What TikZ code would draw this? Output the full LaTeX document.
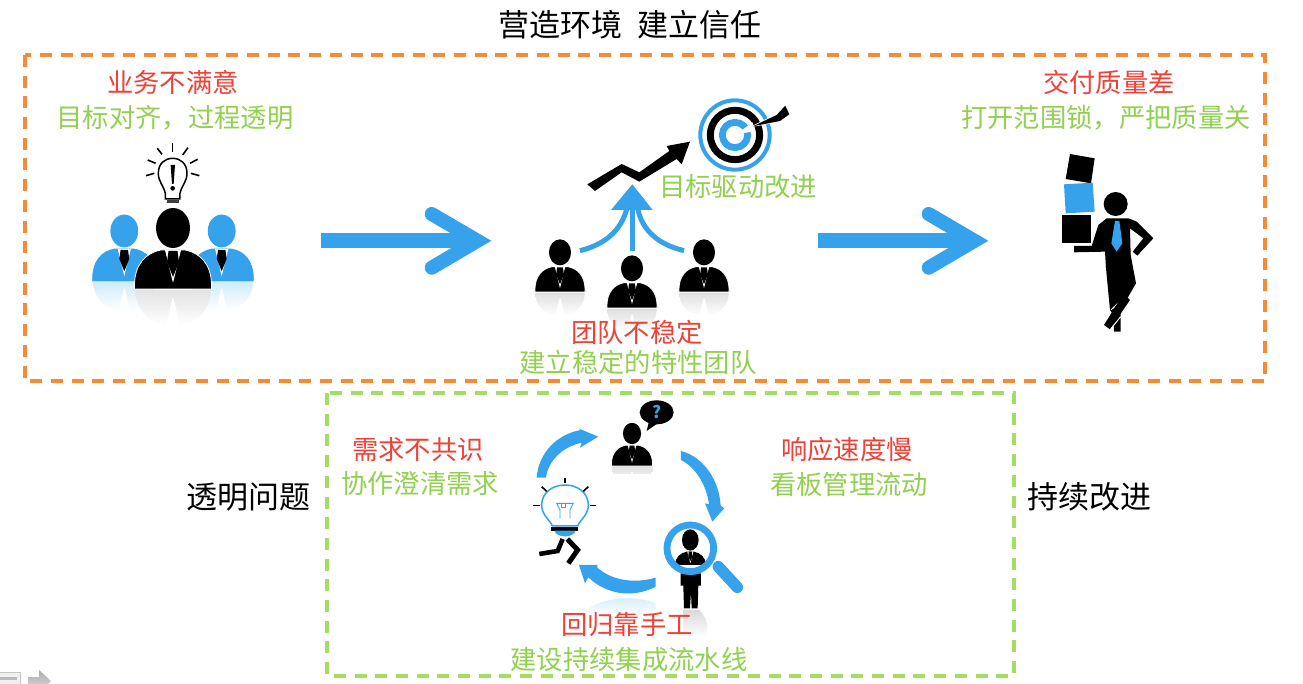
\documentclass[tikz,border=0pt]{standalone}
\usepackage{fontspec}
\setmainfont{Noto Sans CJK SC}
\definecolor{bl}{HTML}{36A2EB}
\definecolor{rd}{HTML}{EF4136}
\definecolor{gn}{HTML}{92D050}
\definecolor{og}{HTML}{F98A35}
\definecolor{fg}{HTML}{A5DC62}
\definecolor{rb}{HTML}{CFEBFB}
\tikzset{
 x=1pt,y=-1pt,
 lab/.style={inner sep=0pt,font=\fontsize{26.3}{28}\selectfont},
 redlab/.style={lab,text=rd},
 greenlab/.style={lab,text=gn},
 bigblack/.style={inner sep=0pt,font=\fontsize{31}{33}\selectfont,text=black},
 framedash/.style={line width=3.2pt,dash pattern=on 12pt off 8.7pt},
 cyc/.style={fill=bl,draw=none},
 ray/.style={draw=black,line width=1.6pt},
}
% x, y (centre of base), scale, body colour, reflection colour, outline colour
\newcommand{\manicon}[6]{
\begin{scope}[shift={(#1,#2)},scale=#3]
 \shade[top color=#5,bottom color=white,draw=none] (-38,1) -- (38,1) .. controls (38,18) and (26,36) .. (0,36) .. controls (-26,36) and (-38,18) .. (-38,1) -- cycle;
 \fill[white] (0,7) -- (7,37) -- (-7,37) -- cycle;
 \filldraw[fill=#4,draw=#6,line width=.8pt] (-38.5,0) -- (-38.5,-5) .. controls (-38,-24) and (-28,-36) .. (-12,-39) -- (12,-39) .. controls (28,-36) and (38,-24) .. (38.5,-5) -- (38.5,0) -- cycle;
 \fill[white] (-8,-39) -- (0,-6) -- (8,-39) -- cycle;
 \fill[black] (-4.5,-38) -- (4.5,-38) -- (6,-27) -- (0,-12) -- (-6,-27) -- cycle;
 \fill[#4] (0,-61) circle[x radius=17,y radius=20];
\end{scope}}
% x of shaft start, x of barb centres
\newcommand{\bigarrowshape}[2]{
 \fill[bl] (#1,233.3) rectangle (#2+40,248.3);
 \draw[bl,line width=14pt,line cap=round,line join=miter] (#2,214) -- (#2+45.8,240.8) -- (#2,267.7);
}
\begin{document}
\begin{tikzpicture}
\useasboundingbox (0,0) rectangle (1303,684);
\fill[white] (0,0) rectangle (1303,684);

% frames
\draw[og,framedash] (25,55) rectangle (1265,381);
\draw[fg,framedash] (327,393) rectangle (1014,676);

% group icon, left
\manicon{124.3}{281}{.82}{bl}{rb}{bl}
\manicon{221.7}{281}{.82}{bl}{rb}{bl}
\manicon{173}{289}{1}{black}{gray!22}{white}
\begin{scope}[shift={(60,130)},scale=.3333]
 \draw[black,line width=1.5pt,fill=white] (316,190) .. controls (310,165) and (295,155) .. (295,130) .. controls (295,100) and (315,85) .. (338,85) .. controls (361,85) and (381,100) .. (381,130) .. controls (381,155) and (366,165) .. (360,190) -- (360,207) -- (316,207) -- cycle;
 \fill[black!75] (320,210) rectangle (358,218);
 \fill[black] (332,105) -- (345,105) -- (341,162) -- (336,162) -- cycle;
 \fill[black] (338,175) circle[radius=7];
 \draw[ray] (338,40) -- (338,65);
 \draw[ray] (292,55) -- (306,73);
 \draw[ray] (384,53) -- (368,75);
 \draw[ray] (263,90) -- (287,100);
 \draw[ray] (413,88) -- (390,100);
 \draw[ray] (258,137) -- (283,130);
 \draw[ray] (418,137) -- (393,130);
\end{scope}

% big arrows
\bigarrowshape{320.7}{431.7}
\bigarrowshape{817.7}{928.7}

% team icon, centre
\manicon{560}{292}{.65}{black}{gray!25}{white}
\manicon{632}{308}{.65}{black}{gray!25}{white}
\manicon{704}{292}{.65}{black}{gray!25}{white}
\begin{scope}[shift={(510,85)},scale=.3333]
 \fill[black] (232,298) -- (335,237) -- (388,262) -- (478,198) -- (470,183) -- (540,170) -- (515,238) -- (500,222) -- (388,290) -- (335,262) -- (255,318) -- cycle;
 \draw[bl,line width=5pt] (210,497) .. controls (280,480) and (335,440) .. (352,365);
 \draw[bl,line width=5pt] (522,497) .. controls (450,480) and (395,440) .. (382,365);
 \draw[bl,line width=5pt] (367,497) -- (367,365);
 \fill[bl] (367,298) -- (428,375) -- (303,375) -- cycle;
 \draw[bl,line width=4pt] (675,150) circle[radius=104];
 \draw[black,line width=7pt] (675,150) circle[radius=74];
 \draw[bl,line width=6.8pt] (675,150) circle[radius=38];
 \fill[white] (675,150) -- (728,112) -- (735,138) -- cycle;
 \fill[white] (715,128) -- (810,82) -- (825,108) -- cycle;
 \fill[black] (728,124) -- (800,90) -- (826,62) -- (838,88) -- (810,108) -- cycle;
\end{scope}

% carrying figure, right
\begin{scope}[shift={(1030,140)},scale=.3333]
 \fill[black] (120,42) -- (194,55) -- (183,130) -- (107,117) -- cycle;
 \fill[bl] (102,133) -- (188,128) -- (194,215) -- (107,220) -- cycle;
 \fill[black] (97,224) rectangle (184,310);
 \fill[black] (257,192) circle[radius=36];
 \fill[black] (132,318) -- (185,318) -- (205,255) -- (230,235) -- (295,235) -- (320,245) -- (370,295) -- (322,347) -- (308,335) -- (340,295) -- (300,265) -- (302,345) -- (318,430) -- (272,510) -- (272,575) -- (252,575) -- (250,525) -- (240,510) -- (228,385) -- (225,335) -- (132,337) -- cycle;
 \draw[white,line width=1pt] (243,510) -- (272,482);
 \fill[black] (222,555) -- (240,568) -- (300,480) -- (280,462) -- cycle;
 \draw[white,line width=1pt] (240,570) -- (272,530);
 \fill[bl] (255,243) -- (268,243) -- (277,310) -- (260,335) -- (244,310) -- cycle;
\end{scope}

% improvement cycle, bottom
\manicon{632}{466}{.533}{black}{gray!25}{white}
\fill[white] (600,474) rectangle (665,490);
\begin{scope}[shift={(510,395)},scale=.3333]
 \fill[gray!20] (306,213) rectangle (428,232);
 % speech bubble
 \fill[black] (440,52) circle[x radius=51,y radius=36];
 \fill[black] (418,75) -- (410,108) -- (450,80) -- cycle;
 \node[inner sep=0pt,text=bl,font=\fontsize{17}{18}\selectfont\bfseries] (qm) at (440,50) {?};
 % cycle arrows
 \fill[cyc] (80,248) .. controls (85,175) and (140,118) .. (212,105) -- (205,100) -- (265,125) -- (210,158) -- (215,143) .. controls (160,155) and (115,195) .. (108,248) -- cycle;
 \fill[cyc] (513,168) .. controls (580,185) and (628,255) .. (632,332) -- (643,340) -- (607,380) -- (585,325) -- (597,328) .. controls (590,270) and (555,215) .. (513,195) -- cycle;
 \fill[cyc] (437,548) .. controls (380,565) and (310,560) .. (262,518) -- (262,510) -- (207,510) -- (225,565) -- (235,547) .. controls (290,600) and (370,610) .. (437,575) -- cycle;
 % faint reflection under the lower arrow
 \shade[top color=rb,bottom color=white,draw=none] (225,650) .. controls (270,605) and (380,600) .. (437,625) -- (437,660) -- (225,660) -- cycle;
 % running bulb
 \draw[bl,line width=1.5pt,fill=white] (127,393) .. controls (120,375) and (95,360) .. (95,330) .. controls (95,295) and (125,270) .. (165,270) .. controls (205,270) and (235,295) .. (235,330) .. controls (235,360) and (210,375) .. (203,393) -- cycle;
 \draw[bl,line width=.9pt] (150,370) -- (150,345) -- (140,325) -- (190,325) -- (180,345) -- (180,370);
 \draw[bl,line width=.9pt] (155,325) -- (155,338) -- (165,338) -- (165,325);
 \fill[black] (123,397) rectangle (205,407);
 \fill[bl] (133,407) .. controls (140,430) and (190,430) .. (197,407) -- cycle;
 \draw[black,line width=4.6pt,line join=miter] (158,432) -- (143,468) -- (88,477);
 \draw[black,line width=5pt,line join=miter] (172,432) -- (203,465) -- (175,505);
 \draw[ray] (165,250) -- (165,265);
 \draw[ray] (95,275) -- (110,289);
 \draw[ray] (235,275) -- (220,289);
 \draw[ray] (70,331) -- (90,331);
 \draw[ray] (240,331) -- (258,331);
 % figure in the magnifier
 \shade[top color=gray!30,bottom color=white,draw=none] (520,645) -- (568,645) .. controls (600,680) and (600,720) .. (570,725) -- (520,725) -- cycle;
 \fill[black] (512,535) -- (573,535) -- (573,572) -- (565,572) -- (563,640) -- (545,640) -- (543,590) -- (540,640) -- (522,640) -- (520,572) -- (512,572) -- cycle;
 \draw[bl,line width=11.5pt,line cap=round] (625,515) -- (682,577);
 \fill[white] (541,460) circle[radius=62];
 \fill[black] (495,510) .. controls (497,485) and (510,475) .. (530,470) -- (552,470) .. controls (572,475) and (586,485) .. (588,510) -- cycle;
 \fill[white] (532,470) -- (541,505) -- (550,470) -- cycle;
 \fill[black] (536,470) -- (546,470) -- (547,485) -- (541,498) -- (535,485) -- cycle;
 \fill[black] (541,435) circle[x radius=25,y radius=32];
 \draw[bl,line width=6.8pt] (541,460) circle[radius=70];
\end{scope}

% toolbar remnants, bottom left
\fill[gray!12] (-2,673) rectangle (20,684);
\draw[gray!45,line width=.7pt] (-2,672) -- (20,672) -- (20,684);
\fill[gray!55] (0,677) rectangle (17,680);
\shade[top color=gray!65,bottom color=gray!40,draw=none] (28,677) -- (39,677) -- (39,670) -- (51,681) -- (48,684) -- (28,684) -- cycle;

% texts
\node[bigblack] (title) at (630,25) {营造环境\hspace{15pt}建立信任};
\node[redlab] (t1) at (173,82) {业务不满意};
\node[greenlab] (t2) at (175,118) {目标对齐^^^^ff0c过程透明};
\node[redlab] (t3) at (1109,82) {交付质量差};
\node[greenlab] (t4) at (1106,118) {打开范围锁^^^^ff0c严把质量关};
\node[greenlab] (t5) at (738,187) {目标驱动改进};
\node[redlab] (t6) at (637,332) {团队不稳定};
\node[greenlab] (t7) at (638,362) {建立稳定的特性团队};
\node[bigblack] (t8) at (248,497) {透明问题};
\node[bigblack] (t9) at (1089,497) {持续改进};
\node[redlab] (t10) at (418,450) {需求不共识};
\node[greenlab] (t11) at (420,484) {协作澄清需求};
\node[redlab] (t12) at (847,449) {响应速度慢};
\node[greenlab] (t13) at (849,484) {看板管理流动};
\node[redlab] (t14) at (627,625) {回归靠手工};
\node[greenlab] (t15) at (629,660) {建设持续集成流水线};
\end{tikzpicture}
\end{document}
